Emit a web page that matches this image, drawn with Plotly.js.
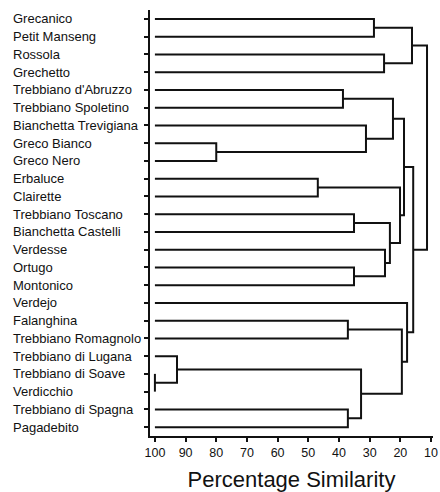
<!DOCTYPE html>
<html>
<head>
<meta charset="utf-8">
<script src="https://cdn.plot.ly/plotly-3.0.1.min.js"></script>
<style>html,body{margin:0;padding:0;background:#fff;}#chart{width:440px;height:492px;}</style>
</head>
<body>
<div id="chart"></div>
<script>
// Leaves, top to bottom
const leaves = [
  "Grecanico", "Petit Manseng", "Rossola", "Grechetto",
  "Trebbiano d'Abruzzo", "Trebbiano Spoletino", "Bianchetta Trevigiana",
  "Greco Bianco", "Greco Nero", "Erbaluce", "Clairette",
  "Trebbiano Toscano", "Bianchetta Castelli", "Verdesse", "Ortugo",
  "Montonico", "Verdejo", "Falanghina", "Trebbiano Romagnolo",
  "Trebbiano di Lugana", "Trebbiano di Soave", "Verdicchio",
  "Trebbiano di Spagna", "Pagadebito"
];
// Linkage: indices < 24 are leaves, index 24+k is the k-th merge
const mergeA   = [20, 7, 19, 9, 4, 17, 22, 11, 14, 26, 6, 0, 2, 13, 31, 28, 27, 29, 39, 16, 35, 42, 44];
const mergeB   = [21, 8, 24, 10, 5, 18, 23, 12, 15, 30, 25, 1, 3, 32, 37, 34, 38, 33, 40, 41, 36, 43, 45];
const mergeSim = [100, 80, 92.8, 46.9, 38.7, 37.1, 37.1, 35.1, 35.1, 32.8, 31.2, 28.6, 25.3, 25.0, 23.4, 22.4, 20.1, 19.5, 18.8, 17.8, 16.2, 15.8, 11.3];
const xTicks = [100, 90, 80, 70, 60, 50, 40, 30, 20, 10];

const n = leaves.length;
const px = [], py = [];
for (let i = 0; i < n; i++) { px.push(100); py.push(i); }
const lx = [], ly = [];
for (let k = 0; k < mergeA.length; k++) {
  const a = mergeA[k], b = mergeB[k], h = mergeSim[k];
  lx.push(px[a], h, h, px[b], null);
  ly.push(py[a], py[a], py[b], py[b], null);
  px.push(h); py.push((py[a] + py[b]) / 2);
}

const FONT = "Liberation Sans, Arial, Helvetica, sans-serif";
const annotations = leaves.map((t, i) => ({
  text: t, xref: "paper", yref: "y", x: -0.49, y: i,
  xanchor: "left", yanchor: "middle", showarrow: false,
  font: {family: FONT, size: 13, color: "#111"}
}));

const trace = {
  x: lx, y: ly, mode: "lines", type: "scatter",
  line: {color: "#111", width: 2}, hoverinfo: "skip", connectgaps: false
};

const layout = {
  width: 440, height: 492,
  margin: {l: 150, r: 7, t: 10, b: 56},
  paper_bgcolor: "#fff", plot_bgcolor: "#fff",
  showlegend: false,
  font: {family: FONT, color: "#111"},
  xaxis: {
    range: [101.6, 9.35], tickvals: xTicks, ticktext: xTicks.map(String),
    showgrid: false, zeroline: false, showline: true, linecolor: "#111", linewidth: 2,
    ticks: "outside", ticklen: 4, tickwidth: 2, tickcolor: "#111",
    tickfont: {family: FONT, size: 12.5, color: "#111"},
    title: {text: "Percentage Similarity", font: {family: FONT, size: 22, color: "#111"}, standoff: 17}
  },
  yaxis: {
    range: [23.5, -0.5], tickvals: leaves.map((_, i) => i), showticklabels: false,
    showgrid: false, zeroline: false, showline: true, linecolor: "#111", linewidth: 2,
    ticks: "outside", ticklen: 4, tickwidth: 2, tickcolor: "#111"
  },
  annotations: annotations
};

Plotly.newPlot("chart", [trace], layout, {displayModeBar: false, staticPlot: true});
</script>
</body>
</html>
